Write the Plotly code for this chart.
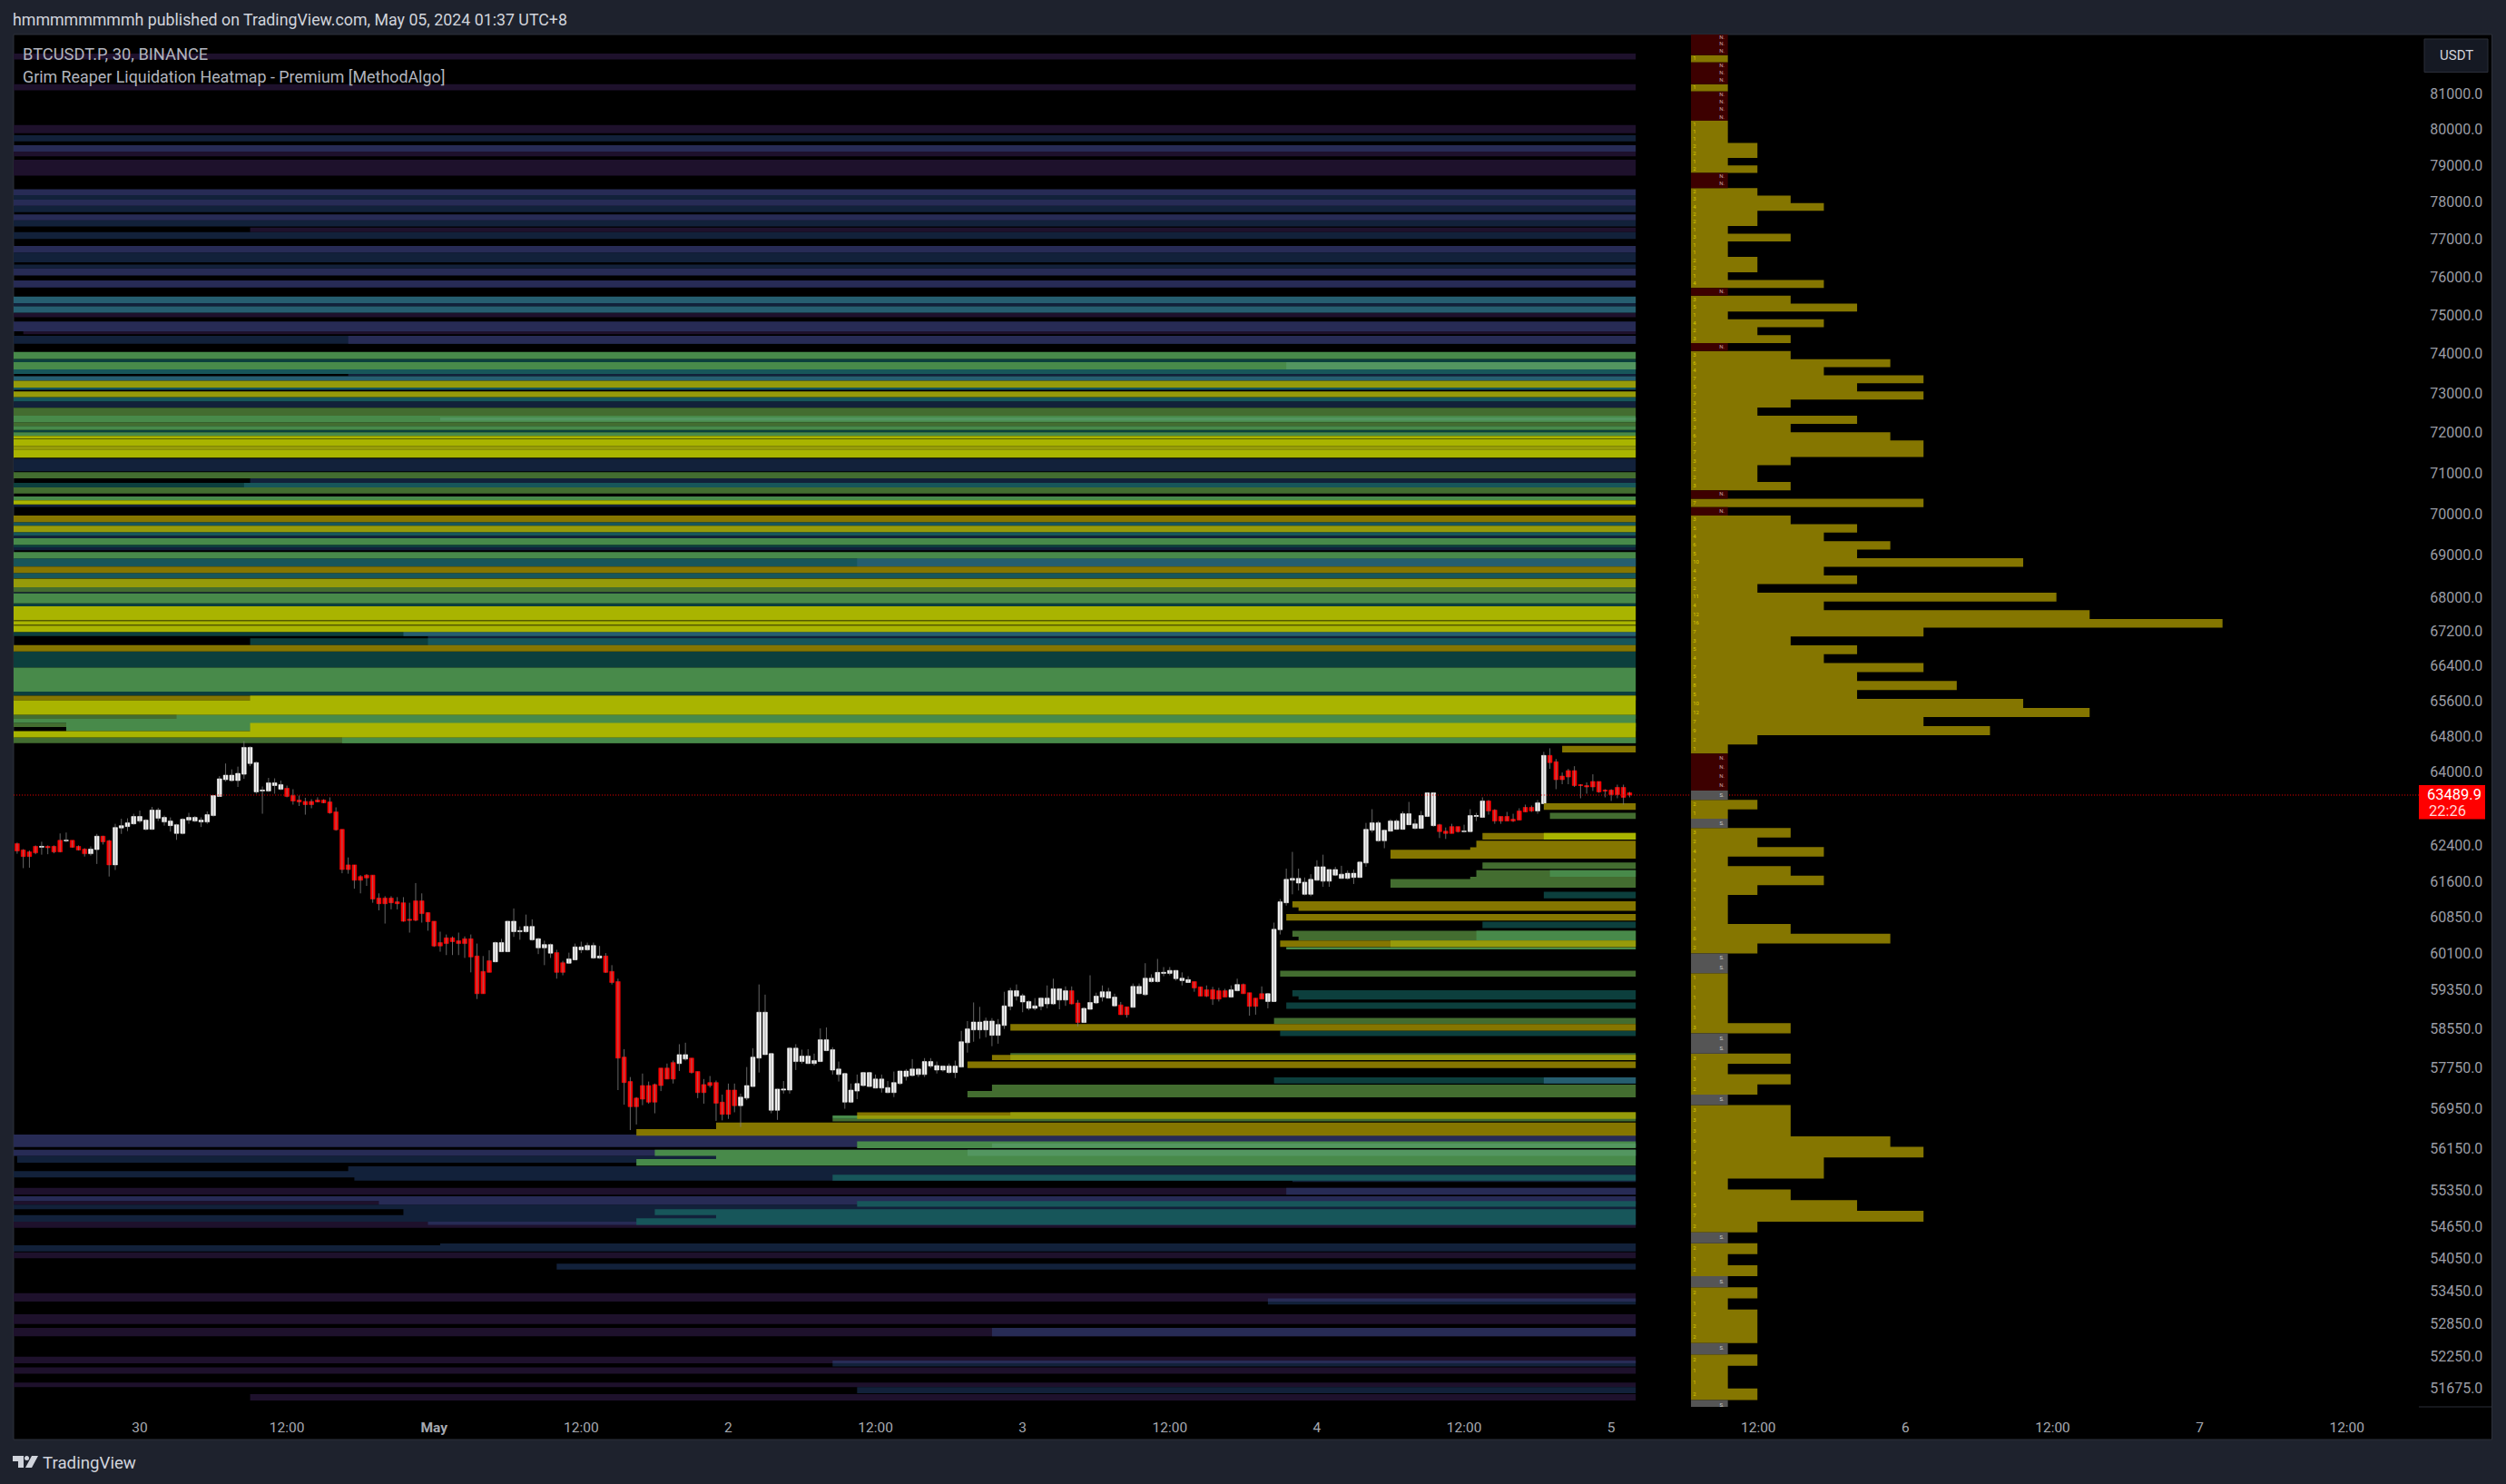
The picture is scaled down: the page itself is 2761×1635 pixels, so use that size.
import math
import pandas as pd
import plotly.graph_objects as go

# ---------- candles (30 min, USDT) ----------
first_bar = "2024-04-29 13:30"
opens = [62430,62430,62290,62250,62370,62350,62370,62370,62500,62490,
62500,62370,62310,62210,62300,62590,62490,61970,62770,62800,
62860,62920,62740,62740,62980,62900,62820,62650,62650,62940,
62920,62900,62900,63040,63460,63830,63810,63810,63950,64190,
63560,63580,63580,63700,63620,63640,63480,63380,63350,63350,
63380,63380,63340,63120,62740,61970,61970,61720,61750,61750,
61260,61260,61260,61180,61160,60810,61200,61200,60950,60770,
60320,60420,60420,60360,60400,60400,60040,59720,59940,59920,
60130,60130,60550,60550,60550,60380,60210,60210,60100,60110,
59900,59890,59960,60170,60170,60000,60000,60040,59720,59510,
57970,57480,57150,57400,57400,57420,57750,57750,57860,57840,
57930,57950,57680,57420,57460,57460,57070,57310,57310,57000,
57150,57380,57950,58020,56910,56910,57310,57310,57880,57880,
57840,57840,57880,58100,57710,57620,57070,57070,57290,57400,
57380,57350,57350,57260,57260,57440,57580,57600,57620,57620,
57790,57710,57710,57660,57660,57770,58260,58520,58520,58520,
58410,58410,58610,59000,59210,59090,58960,58960,59000,59050,
59050,59130,59130,59320,59070,58670,58940,59070,59190,59170,
59010,59030,58990,58980,59260,59240,59510,59510,59680,59680,
59570,59530,59490,59510,59400,59340,59340,59320,59320,59190,
59320,59450,59280,59170,59260,59100,59100,60590,61160,61640,
61580,61340,61340,61640,61620,61620,61750,61680,61680,61700,
61700,62010,62720,62490,62490,62700,62740,62740,62840,62760,
62760,63020,62820,62840,62700,62800,62800,62690,62690,63020,
63000,63360,63160,63020,63020,62960,63140,63220,63220,63140,
63300,64370,64230,63910,64030,64030,63720,63700,63790,63790,
63600,63600,63660,63660,63540]
closes = [62310,62270,62150,62150,62230,62370,62340,62250,62250,62500,
62350,62290,62210,62310,62590,62470,61970,62780,62820,62880,
63020,63020,62940,63160,63160,63000,62920,62840,62960,63000,
63000,62940,63060,63480,63850,63930,63930,63970,64550,64550,
64210,63600,63760,63760,63720,63460,63360,63340,63280,63280,
63340,63320,63100,62730,61870,61870,61640,61640,61690,61240,
61140,61140,61160,61140,60770,60790,60790,60930,60760,60250,
60250,60300,60340,60300,60300,60020,59260,59260,59700,60320,
60320,60770,60770,60570,60660,60660,60400,60280,60280,59700,
59700,59980,60230,60230,60260,60260,60040,59700,59490,57950,
57460,56980,56980,57130,57070,57070,57400,57530,57530,58020,
58020,57660,57260,57260,57400,57050,56830,56830,57000,57170,
57400,57970,58880,58880,58040,57330,57330,58150,58150,57990,
57990,57900,58320,58320,58120,57730,57640,57310,57440,57660,
57660,57530,57530,57360,57460,57690,57690,57730,57730,57880,
57880,57800,57790,57790,57790,58280,58540,58680,58680,58700,
58700,58630,59010,59320,59320,59220,59100,59010,59170,59170,
59360,59360,59320,59050,58670,58960,59080,59210,59300,59300,
59190,58830,58830,59410,59410,59580,59580,59700,59700,59740,
59740,59580,59550,59380,59210,59210,59150,59150,59190,59340,
59450,59260,59000,59000,59150,59260,60600,61180,61660,61680,
61680,61600,61660,61930,61930,61870,61870,61770,61790,61790,
62030,62740,62880,62880,62720,62920,62920,63080,63080,62860,
63040,63540,63540,62690,62650,62650,62690,62700,63040,63040,
63360,63140,62920,62920,62920,62920,62940,63120,63140,63320,
64370,64210,63830,63830,63890,63700,63700,63670,63670,63560,
63580,63500,63500,63440,63489.9]
highs = [62440,62450,62310,62280,62390,62470,62390,62390,62650,62670,
62500,62390,62330,62370,62640,62600,62510,62860,62970,62980,
63080,63150,62960,63230,63210,63040,63000,62860,62980,63100,
63030,63000,63130,63480,63910,64190,64060,64120,64690,64570,
64230,63680,63870,63860,63810,63700,63620,63480,63430,63400,
63440,63400,63440,63220,62740,62130,61970,61750,61770,61750,
61360,61300,61300,61280,61280,61160,61580,61360,60960,60770,
60550,60490,60450,60530,60450,60490,60300,60040,60160,60340,
60400,60770,61040,60660,60910,60810,60420,60360,60300,60170,
59940,60110,60300,60340,60320,60320,60250,60100,59850,59570,
58130,57570,57170,57640,57480,57440,57750,57840,57900,58230,
58260,57950,57680,57530,57590,57500,57220,57440,57440,57240,
57770,58150,59450,59240,58040,57330,57490,58150,58230,58120,
58130,58040,58550,58570,58170,57880,57640,57440,57620,57660,
57660,57620,57620,57490,57680,57690,57730,57930,57750,57950,
57950,57880,57800,57840,57900,58500,58700,59080,58990,58770,
58760,58740,59300,59380,59450,59260,59120,59170,59170,59430,
59570,59360,59410,59410,59130,58980,59640,59280,59430,59380,
59260,59090,58990,59470,59470,59890,59660,59980,59810,59810,
59740,59700,59620,59510,59400,59430,59400,59380,59360,59430,
59570,59470,59280,59170,59410,59260,60740,61240,61890,62250,
61890,61700,61770,62070,62190,61870,61930,61950,61850,61870,
62030,62880,63180,62920,62720,62960,62960,63130,63340,62960,
63140,63540,63540,62860,62780,62860,62800,62840,63180,63100,
63440,63380,63180,63020,63120,63080,63200,63280,63260,63380,
64450,64530,64290,63990,64070,64130,63730,63770,63950,63790,
63620,63620,63720,63720,63560]
lows = [62260,62210,61900,61910,62200,62190,62200,62220,62240,62460,
62340,62280,62150,62170,61990,62410,61720,61860,62640,62700,
62840,62880,62720,62730,62920,62820,62690,62510,62630,62860,
62900,62790,62860,63020,63450,63790,63790,63670,63850,64130,
63520,63080,63560,63520,63600,63440,63280,63250,63060,63200,
63330,63310,63080,62710,61790,61780,61460,61360,61520,61160,
61000,60720,61020,61020,60760,60530,60770,60740,60570,60230,
60130,60060,60060,60060,60000,59700,59150,59260,59700,59910,
60130,60130,60440,60380,60530,60360,60080,59850,60000,59570,
59640,59880,59960,60100,60150,59980,59980,59690,59450,57310,
57020,56520,56630,57010,57040,56850,57290,57530,57440,57690,
57900,57640,57150,57040,57360,56700,56710,56740,56870,56580,
57110,57380,57660,58020,56850,56720,57240,57240,57710,57840,
57840,57800,57880,58100,57620,57480,56940,57070,57130,57380,
57380,57350,57260,57250,57170,57420,57500,57580,57570,57570,
57750,57640,57680,57640,57550,57770,58060,58280,58340,58370,
58190,58240,58540,58920,59120,58880,58920,58920,58920,58960,
59030,58940,59010,59040,58590,58670,58940,59050,59100,59170,
59010,58830,58770,58980,59260,59220,59490,59490,59620,59640,
59530,59430,59490,59300,59210,59190,59030,59100,59190,59190,
59320,59260,58810,58830,59150,58960,59100,60490,61100,61340,
61420,61320,61300,61640,61500,61500,61730,61680,61660,61560,
61700,61930,62670,62470,62330,62700,62740,62740,62840,62740,
62760,63020,62800,62550,62530,62650,62670,62670,62690,62920,
63000,63060,62860,62860,62920,62900,62940,63120,63120,63080,
63300,64070,63620,63730,63730,63670,63420,63520,63580,63540,
63440,63360,63420,63280,63440]
assert len(opens) == len(closes) == len(highs) == len(lows) == 265

# ---------- heatmap levels: (price high, price low, bar index where the level begins) ----------
purple = [(82130,81960,0),(81260,81090,0),(80116,79888,0),(79381,79248,0),(79156,78723,0),(77313,77190,39),
 (75066,74947,0),(74578,74502,2),(55395,55265,0),(55145,55075,0),(54750,54635,0),(54170,54060,0),(53410,53255,0),
 (53020,52840,0),(52770,52615,0),(52245,52125,0),(52050,51935,0),(51775,51695,0),(51570,51455,39)]
navy = [(79832,79664,0),(78189,78066,0),(77900,77730,0),(77510,77347,0),(77190,77008,0),(76645,76386,0),(76330,76224,0),
 (75310,75232,0),(74462,74260,0),(73487,73427,55),(72789,72627,0),(71355,71042,0),(70870,70758,39),(70233,70167,0),
 (69470,69410,0),(69192,69120,0),(68125,68097,0),(67096,67039,68),(56015,55885,1),(55815,55720,55),(55720,55600,0),(55600,55538,56),
 (55538,55510,209),(55075,54990,0),(54990,54875,64),(54875,54750,0),(54340,54305,70),(54305,54190,0),(53960,53850,89),
 (53255,53200,205),(52125,52065,134),(51695,51585,138)]
indigo = [(79556,79381,0),(78350,78189,0),(78066,77900,0),(77670,77510,0),(76822,76645,0),(76224,76042,0),(75906,75723,0),
 (74836,74578,0),(74462,74260,55),(56430,56190,0),(56135,56015,0),(55395,55265,208),(55235,55145,0),(55145,55075,60),
 (54750,54690,68),(53310,53255,205),(52770,52615,160),(52175,52125,134)]
deep_teal = [(73868,73788,0),(72066,72014,0),(70758,70646,0),(69250,69192,0),(67860,67788,0),(67187,67096,0),(67039,66885,39),
 (66737,66365,0),(65809,65720,0),(61395,61255,250),(60760,60625,240),(59330,59205,209),(59205,59140,210),(59080,58950,208),
 (58505,58395,207),(57565,57440,206)]
teal = [(73603,73487,0),(73140,73080,0),(72897,72789,0),(70758,70646,38),(69800,69712,0),(69558,69470,0),(68925,68731,0),
 (68578,68455,0),(67039,66885,68),(55650,55538,134),(55145,55035,138),(54990,54875,105),(54875,54815,115),(54815,54690,102)]
blue_teal = [(75484,75310,0),(75232,75066,0),(73427,73311,0),(68925,68731,138),(67187,67096,64),(57565,57440,250)]
dark_green = [(72627,72428,0),(72264,72173,0),(71020,70870,0),(70646,70498,0),(68239,68125,0),(65287,65190,0),(65101,65010,0),
 (64774,64645,0),(63100,62967,251),(62020,61884,240),(61858,61715,239),(61715,61665,238),(61665,61483,225),(60570,60445,209),
 (60445,60365,210),(59735,59610,207),(58765,58640,206),(58050,58015,163),(57420,57290,160),(57290,57165,156),(56740,56690,134)]
green = [(74046,73868,0),(73788,73603,0),(72428,72264,0),(72173,72066,0),(72014,71923,0),(70424,70328,0),(69410,69250,0),
 (69077,68925,0),(68097,67860,0),(66365,65809,0),(65287,65190,27),(65190,65101,0),(65101,64915,9),(64774,64645,54),(61858,61715,251),
 (60570,60365,239),(60225,60180,208),(56300,56165,138),(56135,56015,105),(56015,55955,115),(55955,55825,102),(56805,56740,134)]
light_green = [(73788,73603,208),(72380,72300,70),(56260,56180,160),(56135,56015,156)]
gold = [(69960,69800,0),(68731,68578,0),(66885,66737,0),(65720,65617,0),(64585,64435,253),(63312,63165,250),(62660,62516,240),
 (62490,62348,239),(62348,62295,238),(62295,62104,225),(61190,61060,209),(61060,60990,210),(60920,60785,208),(60365,60230,207),
 (58640,58505,163),(58015,57910,160),(57880,57750,156),(56870,56805,138),(56670,56540,115),(56540,56410,102)]
olive = [(73311,73140,0),(73043,72897,0),(71855,71840,0),(71674,71582,0),(69712,69558,0),(68442,68239,0),(67460,67445,0),(67355,67340,0),
 (60365,60230,225),(58015,57910,163),(56870,56805,163),(56805,56740,138)]
yellow = [(71923,71855,0),(71840,71674,0),(71582,71377,0),(70328,70233,0),(67788,67460,0),(67445,67355,0),(67340,67187,0),(65720,65617,39),
 (65617,65287,0),(65101,64915,39),(64915,64774,0),(62660,62516,250)]

# ---------- right-hand level profile, top to bottom, one count per price bin ----------
bin_top = 82700
bin_step = 205.5
bin_counts = [0,0,0,1,0,0,0,1,0,0,0,0,
 1,1,1,2,2,1,2,0,0,2,3,4,2,2,1,3,1,1,2,2,1,4,0,3,5,1,4,2,3,0,
 3,6,4,7,5,7,3,2,5,3,6,7,7,3,2,2,3,0,7,0,
 3,5,4,6,5,10,4,5,2,11,4,12,16,7,3,5,4,7,5,8,5,10,12,7,9,2,1,
 0,0,0,0,
 0,2,1,0,3,2,4,1,3,4,2,1,1,1,3,6,2,0,0,1,1,1,1,1,3,0,0,3,1,3,2,0,
 3,3,3,6,7,4,4,1,3,5,7,2,0,2,1,2,0,2,1,2,2,2,0,2,1,1,2,0]
first_south_bin = 93

# ---------- axis labels ----------
price_ticks = [81000,80000,79000,78000,77000,76000,75000,74000,73000,72000,71000,70000,69000,68000,67200,66400,65600,64800,
 64000,62400,61600,60850,60100,59350,58550,57750,56950,56150,55350,54650,54050,53450,52850,52250,51675]
time_ticks = ["2024-04-30 00:00","2024-04-30 12:00","2024-05-01 00:00","2024-05-01 12:00","2024-05-02 00:00","2024-05-02 12:00",
 "2024-05-03 00:00","2024-05-03 12:00","2024-05-04 00:00","2024-05-04 12:00","2024-05-05 00:00","2024-05-05 12:00",
 "2024-05-06 00:00","2024-05-06 12:00","2024-05-07 00:00","2024-05-07 12:00"]
time_labels = ["30","12:00","<b>May</b>","12:00","2","12:00","3","12:00","4","12:00","5","12:00","6","12:00","7","12:00"]
last_price = 63489.9

# ---------- layout in pixels ----------
W, H = 2761, 1635
L, R, T, B = 15, 2665, 38, 1550
def px(x): return (x - L) / (R - L)
def py(y): return (B - y) / (B - T)

times = pd.date_range(first_bar, periods=len(opens), freq="30min")
end_time = times[-1] + pd.Timedelta(minutes=30)
iso = lambda t: t.strftime("%Y-%m-%d %H:%M")

fig = go.Figure()

shades = [(purple,"#1e112c"),(navy,"#12213a"),(indigo,"#272b55"),(deep_teal,"#0c3f3d"),(teal,"#17565a"),(blue_teal,"#265e70"),
          (dark_green,"#436d30"),(green,"#488a4a"),(light_green,"#539660"),(gold,"#857600"),(olive,"#969b0a"),(yellow,"#a9b400")]
for rows, colour in shades:
    xs, ys = [], []
    for hi, lo, start in rows:
        s = iso(times[start]); e = iso(end_time)
        xs += [s, e, e, s, s, None]
        ys += [hi, hi, lo, lo, hi, None]
    fig.add_trace(go.Scatter(x=xs, y=ys, mode="lines", line=dict(width=0), fill="toself", fillcolor=colour,
                             hoverinfo="skip", showlegend=False))

# profile bars
min_len = 1.11
groups = {"y": ([], []), "r": ([], []), "g": ([], [])}
num_x, num_y, num_t = [], [], []
n_x, n_y, n_t, s_x, s_y, s_t = [], [], [], [], [], []
for i, c in enumerate(bin_counts):
    hi = bin_top - bin_step * i
    lo = hi - bin_step
    mid = (hi + lo) / 2
    key = "y" if c > 0 else ("r" if i < first_south_bin else "g")
    ln = max(c, min_len)
    groups[key][0].extend([0, ln, ln, 0, 0, None])
    groups[key][1].extend([hi, hi, lo, lo, hi, None])
    if c > 0:
        num_x.append(0.06); num_y.append(mid); num_t.append(str(c))
    elif key == "r":
        n_x.append(0.93); n_y.append(mid); n_t.append("N.")
    else:
        s_x.append(0.93); s_y.append(mid); s_t.append("S.")
for key, colour in (("y","#857600"),("r","#3d0000"),("g","#555555")):
    fig.add_trace(go.Scatter(x=groups[key][0], y=groups[key][1], xaxis="x2", mode="lines", line=dict(width=0),
                             fill="toself", fillcolor=colour, hoverinfo="skip", showlegend=False))
for xs, ys, ts, colour, pos in ((num_x,num_y,num_t,"#d8c800","middle right"),(n_x,n_y,n_t,"#c8a0a0","middle center"),(s_x,s_y,s_t,"#d0d0d0","middle center")):
    fig.add_trace(go.Scatter(x=xs, y=ys, text=ts, xaxis="x2", mode="text", textposition=pos,
                             textfont=dict(size=6, color=colour, family="Roboto"), hoverinfo="skip", showlegend=False))

# wicks (grey, thin) under bodies
wx, wy = [], []
for t, h, l in zip(times, highs, lows):
    wx += [iso(t), iso(t), None]
    wy += [l, h, None]
fig.add_trace(go.Scatter(x=wx, y=wy, mode="lines", line=dict(color="#808080", width=0.8), hoverinfo="skip", showlegend=False))
body_high = [max(o, c) for o, c in zip(opens, closes)]
body_low = [min(o, c) for o, c in zip(opens, closes)]
fig.add_trace(go.Candlestick(x=[iso(t) for t in times], open=opens, high=body_high, low=body_low, close=closes,
    increasing=dict(fillcolor="#f6f6f6", line=dict(color="#f6f6f6", width=0.6)),
    decreasing=dict(fillcolor="#ff0000", line=dict(color="#ff0000", width=0.6)),
    whiskerwidth=0, showlegend=False, hoverinfo="skip"))

# last-price line
fig.add_trace(go.Scatter(x=[iso(times[0]), "2024-05-08 00:00"], y=[last_price, last_price], mode="lines",
                         line=dict(color="#ff0000", width=1, dash="1px,2px"), hoverinfo="skip", showlegend=False))

shapes = [
    dict(type="rect", xref="paper", yref="paper", x0=px(15), x1=px(2745.5), y0=py(38), y1=py(1586),
         fillcolor="#000000", line=dict(color="#2c303b", width=1), layer="below"),
    dict(type="rect", xref="paper", yref="paper", x0=px(2665), x1=px(2738), y0=py(865), y1=py(902.5),
         fillcolor="#ff0000", line=dict(width=0)),
    dict(type="rect", xref="paper", yref="paper", x0=px(2671), x1=px(2741), y0=py(43), y1=py(79.5),
         fillcolor="#151923", line=dict(color="#2a2e39", width=1)),
    dict(type="line", xref="paper", yref="paper", x0=px(2665), x1=px(2745), y0=py(1550), y1=py(1550),
         line=dict(color="#2a2e39", width=1)),
]
# logo
logo = f"M {px(14)} {py(1604)} L {px(26)} {py(1604)} L {px(26)} {py(1617)} L {px(20)} {py(1617)} L {px(20)} {py(1610)} L {px(14)} {py(1610)} Z " \
       f"M {px(35)} {py(1604)} L {px(42)} {py(1604)} L {px(35)} {py(1617)} L {px(28)} {py(1617)} Z"
shapes.append(dict(type="path", xref="paper", yref="paper", path=logo, fillcolor="#d1d4dc", line=dict(width=0)))
shapes.append(dict(type="circle", xref="paper", yref="paper", x0=px(27), x1=px(32), y0=py(1604), y1=py(1609), fillcolor="#d1d4dc", line=dict(width=0)))

def note(x, y, text, size, colour, anchor="left"):
    return dict(xref="paper", yref="paper", x=px(x), y=py(y), text=text, showarrow=False, xanchor=anchor, yanchor="middle",
                borderpad=0, font=dict(family="Roboto", size=size, color=colour))

annotations = [
    note(13, 22, "hmmmmmmmmh published on TradingView.com, May 05, 2024 01:37 UTC+8", 17.8, "#d1d4dc"),
    note(24, 60, "BTCUSDT.P, 30, BINANCE", 18.3, "#b2b5be"),
    note(24, 84, "Grim Reaper Liquidation Heatmap - Premium [MethodAlgo]", 17.85, "#b2b5be"),
    note(2706, 61, "USDT", 15, "#d1d4dc", "center"),
    note(2704, 876, "63489.9", 16.5, "#ffffff", "center"),
    note(2675, 893, "22:26", 16.5, "#ffd6d6"),
    note(46, 1612, "TradingView", 18.7, "#d1d4dc"),
]

fig.update_layout(
    width=W, height=H, showlegend=False, hovermode=False, dragmode=False,
    paper_bgcolor="#1e222d", plot_bgcolor="#000000",
    margin=dict(l=L, r=W - R, t=T, b=H - B, pad=0, autoexpand=False),
    boxgap=0,
    shapes=shapes, annotations=annotations,
    xaxis=dict(type="date", range=["2024-04-29 13:42:40", "2024-05-07 17:52"], tickmode="array", tickvals=time_ticks,
               ticktext=time_labels, showgrid=False, zeroline=False, showline=False, rangeslider=dict(visible=False),
               ticks="outside", ticklen=8, tickcolor="rgba(0,0,0,0)", tickangle=0,
               tickfont=dict(family="Roboto", size=15.5, color="#a6a9b1")),
    xaxis2=dict(overlaying="x", anchor="y", range=[-50.49, 21.91], visible=False, showgrid=False, zeroline=False),
    yaxis=dict(type="log", range=[math.log10(51342), math.log10(82675)], side="right", tickmode="array",
               tickvals=price_ticks, ticktext=[f"{v:.1f}" for v in price_ticks], showgrid=False, zeroline=False, showline=False,
               ticks="outside", ticklen=8, tickcolor="rgba(0,0,0,0)", automargin=False,
               tickfont=dict(family="Roboto", size=16, color="#9b9da5")),
)

fig.write_html("out.html", config={"displayModeBar": False},
               post_script="document.body.style.margin='0';document.documentElement.style.overflow='hidden';")
